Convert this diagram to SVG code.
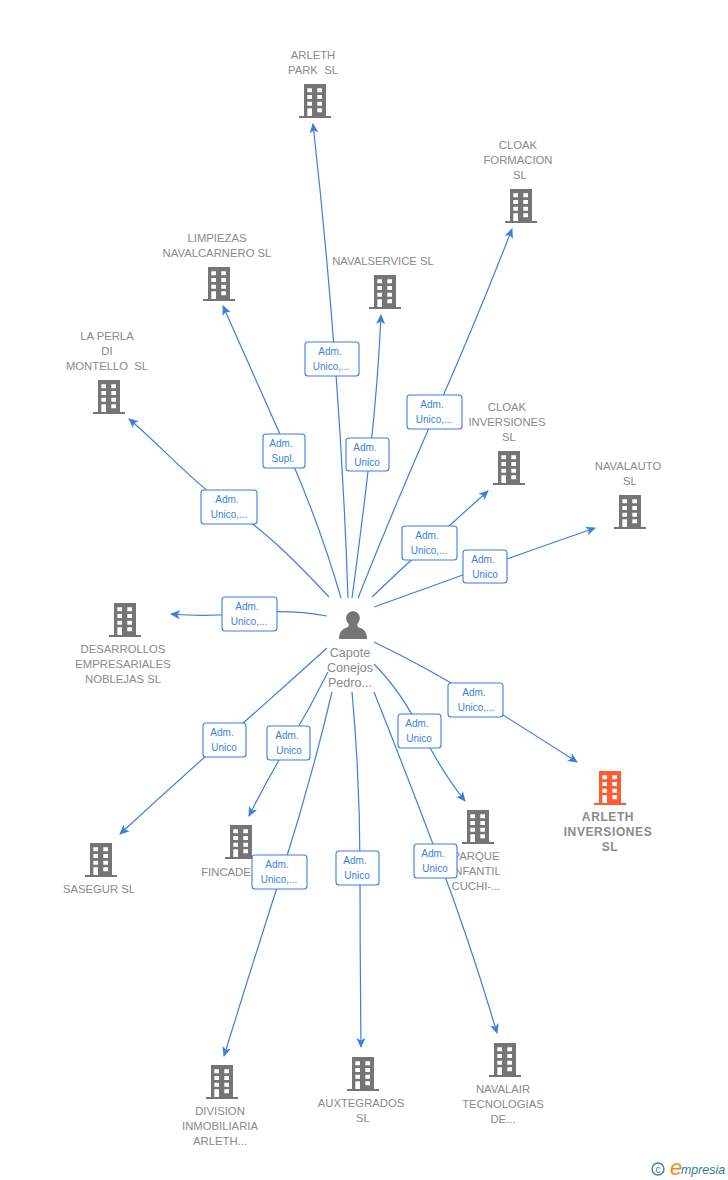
<svg xmlns="http://www.w3.org/2000/svg" width="728" height="1180" viewBox="0 0 728 1180">
<style>
text{font-family:"Liberation Sans",Arial,sans-serif}
.n{font-size:11.3px;fill:#8a8a8a;text-anchor:middle}
.m{font-size:12.6px;fill:#8a8a8a;text-anchor:middle}
.r{font-size:12px;font-weight:bold;fill:#8a8a8a;text-anchor:middle;letter-spacing:.6px}
.c{fill:none;stroke:#3a80e0;stroke-width:1.2;marker-end:url(#a)}
.b{fill:#fff;stroke:#3a80e0;stroke-width:1.1}
.l{font-size:10px;fill:#3a80e0;text-anchor:middle}
</style>
<defs>
<marker id="a" viewBox="0 0 10 10" refX="9" refY="5" markerWidth="10" markerHeight="10" markerUnits="userSpaceOnUse" orient="auto"><path d="M0 0.5L10 5L0 9.5L2.5 5Z" fill="#3a80e0"/></marker>
<path id="bd" fill-rule="evenodd" d="M5 0H27V32H32V34H0V32H5ZM8.3 4.3V8.3H13V4.3ZM18.3 4.3V8.3H23V4.3ZM8.3 11V15H13V11ZM18.3 11V15H23V11ZM8.3 17.7V21.7H13V17.7ZM18.3 17.7V21.7H23V17.7ZM8.3 24.3V32H13V24.3ZM18.3 24.3V28.3H23V24.3Z"/>
</defs>
<g id="connectors">
<path class="c" d="M348 598Q344 480 335 360T313 124"/>
<path class="c" d="M358 598Q397 500 436 412T512 229"/>
<path class="c" d="M341 598Q320 525 287 450T223 306"/>
<path class="c" d="M352 598Q362 525 370 454T381 315"/>
<path class="c" d="M329 597C290 555 260 527 229 507S160 445 129 419"/>
<path class="c" d="M372 597Q400 570 430 543T488 491"/>
<path class="c" d="M374 607Q430 587 485 567T595 528"/>
<path class="c" d="M327 616Q290 609 249 613T171 614"/>
<path class="c" d="M327 648Q275 695 224 740T120 834"/>
<path class="c" d="M328 672Q310 708 289 743T249 816"/>
<path class="c" d="M332 692Q310 785 282 872T224 1056"/>
<path class="c" d="M352 692Q360 780 360 868T361 1047"/>
<path class="c" d="M374 692Q407 775 439 860T497 1033"/>
<path class="c" d="M374 664Q400 690 421 731T465 801"/>
<path class="c" d="M374 642Q428 668 476 698T577 762"/>
</g>
<g id="n-arleth-park" fill="#757575"><use href="#bd" x="299" y="84"/><text class="n" x="313" y="59">ARLETH</text><text class="n" x="313" y="74" xml:space="preserve">PARK  SL</text></g>
<g id="n-cloak-formacion" fill="#757575"><use href="#bd" x="505" y="189"/><text class="n" x="518" y="149">CLOAK</text><text class="n" x="518" y="164">FORMACION</text><text class="n" x="520" y="179">SL</text></g>
<g id="n-limpiezas" fill="#757575"><use href="#bd" x="203" y="267"/><text class="n" x="217" y="242">LIMPIEZAS</text><text class="n" x="217" y="257">NAVALCARNERO SL</text></g>
<g id="n-navalservice" fill="#757575"><use href="#bd" x="369" y="275"/><text class="n" x="383" y="265">NAVALSERVICE SL</text></g>
<g id="n-la-perla" fill="#757575"><use href="#bd" x="93" y="380"/><text class="n" x="107" y="340">LA PERLA</text><text class="n" x="107" y="355">DI</text><text class="n" x="107" y="370" xml:space="preserve">MONTELLO  SL</text></g>
<g id="n-cloak-inversiones" fill="#757575"><use href="#bd" x="493" y="451"/><text class="n" x="507" y="411">CLOAK</text><text class="n" x="507" y="426">INVERSIONES</text><text class="n" x="509" y="441">SL</text></g>
<g id="n-navalauto" fill="#757575"><use href="#bd" x="614" y="495"/><text class="n" x="628" y="470">NAVALAUTO</text><text class="n" x="630" y="485">SL</text></g>
<g id="n-desarrollos" fill="#757575"><use href="#bd" x="109" y="603"/><text class="n" x="123" y="653">DESARROLLOS</text><text class="n" x="123" y="668">EMPRESARIALES</text><text class="n" x="123" y="683">NOBLEJAS SL</text></g>
<g id="n-sasegur" fill="#757575"><use href="#bd" x="85" y="843"/><text class="n" x="99" y="893">SASEGUR SL</text></g>
<g id="n-fincade" fill="#757575"><use href="#bd" x="225" y="825"/><text class="n" x="226" y="876">FINCADE</text></g>
<g id="n-parque" fill="#757575"><use href="#bd" x="462" y="810"/><text class="n" x="476" y="860">PARQUE</text><text class="n" x="476" y="875">INFANTIL</text><text class="n" x="476" y="890">CUCHI-...</text></g>
<g id="n-arleth-inversiones" fill="#ff5c33"><use href="#bd" x="594" y="771"/><text class="r" x="608" y="821">ARLETH</text><text class="r" x="608" y="836">INVERSIONES</text><text class="r" x="610" y="851">SL</text></g>
<g id="n-division" fill="#757575"><use href="#bd" x="206" y="1065"/><text class="n" x="220" y="1115">DIVISION</text><text class="n" x="220" y="1130">INMOBILIARIA</text><text class="n" x="220" y="1145">ARLETH...</text></g>
<g id="n-auxtegrados" fill="#757575"><use href="#bd" x="347" y="1057"/><text class="n" x="361" y="1107">AUXTEGRADOS</text><text class="n" x="363" y="1122">SL</text></g>
<g id="n-navalair" fill="#757575"><use href="#bd" x="489" y="1043"/><text class="n" x="503" y="1093">NAVALAIR</text><text class="n" x="503" y="1108">TECNOLOGIAS</text><text class="n" x="503" y="1123">DE...</text></g>
<g id="n-capote"><path fill="#757575" d="M339 639C339 631 343 629 348 627C349 626 349 624 348 623C345 620 345 612 353 611C361 612 361 620 358 623C357 624 357 626 358 627C363 629 367 631 367 639Z"/><text class="m" x="350" y="657">Capote</text><text class="m" x="350" y="672">Conejos</text><text class="m" x="350" y="687">Pedro...</text></g>
<g id="labels">
<rect class="b" x="305" y="342" width="54" height="34" rx="3"/><text class="l" x="330" y="355">Adm.</text><text class="l" x="331" y="370">Unico,...</text>
<rect class="b" x="407" y="395" width="55" height="34" rx="3"/><text class="l" x="432" y="408">Adm.</text><text class="l" x="434" y="423">Unico,...</text>
<rect class="b" x="263" y="434" width="42" height="34" rx="3"/><text class="l" x="281" y="447">Adm.</text><text class="l" x="283" y="462">Supl.</text>
<rect class="b" x="346" y="438" width="43" height="33" rx="3"/><text class="l" x="365" y="451">Adm.</text><text class="l" x="367" y="466">Unico</text>
<rect class="b" x="201" y="490" width="56" height="34" rx="3"/><text class="l" x="227" y="503">Adm.</text><text class="l" x="229" y="518">Unico,...</text>
<rect class="b" x="402" y="526" width="55" height="34" rx="3"/><text class="l" x="427" y="539">Adm.</text><text class="l" x="429" y="554">Unico,...</text>
<rect class="b" x="463" y="550" width="44" height="33" rx="3"/><text class="l" x="483" y="563">Adm.</text><text class="l" x="485" y="578">Unico</text>
<rect class="b" x="222" y="597" width="55" height="34" rx="3"/><text class="l" x="247" y="610">Adm.</text><text class="l" x="249" y="625">Unico,...</text>
<rect class="b" x="448" y="683" width="55" height="34" rx="3"/><text class="l" x="474" y="696">Adm.</text><text class="l" x="476" y="711">Unico,...</text>
<rect class="b" x="203" y="723" width="43" height="34" rx="3"/><text class="l" x="222" y="736">Adm.</text><text class="l" x="224" y="751">Unico</text>
<rect class="b" x="267" y="726" width="43" height="34" rx="3"/><text class="l" x="287" y="739">Adm.</text><text class="l" x="289" y="754">Unico</text>
<rect class="b" x="398" y="714" width="43" height="34" rx="3"/><text class="l" x="417" y="727">Adm.</text><text class="l" x="419" y="742">Unico</text>
<rect class="b" x="252" y="855" width="55" height="34" rx="3"/><text class="l" x="277" y="868">Adm.</text><text class="l" x="279" y="883">Unico,...</text>
<rect class="b" x="336" y="851" width="43" height="34" rx="3"/><text class="l" x="355" y="864">Adm.</text><text class="l" x="357" y="879">Unico</text>
<rect class="b" x="414" y="844" width="43" height="34" rx="3"/><text class="l" x="433" y="857">Adm.</text><text class="l" x="435" y="872">Unico</text>
</g>
<g id="logo"><circle cx="658" cy="1169" r="6" fill="none" stroke="#4a7f96" stroke-width="1.4"/><text x="658" y="1172.5" font-size="10" fill="#4a7f96" text-anchor="middle">c</text><text x="670" y="1175" font-size="22" font-style="italic" fill="#f08a1d" font-family="Liberation Serif">e</text><text x="681" y="1174" font-size="12.4" font-style="italic" fill="#2c7f96">mpresia</text></g>
</svg>
